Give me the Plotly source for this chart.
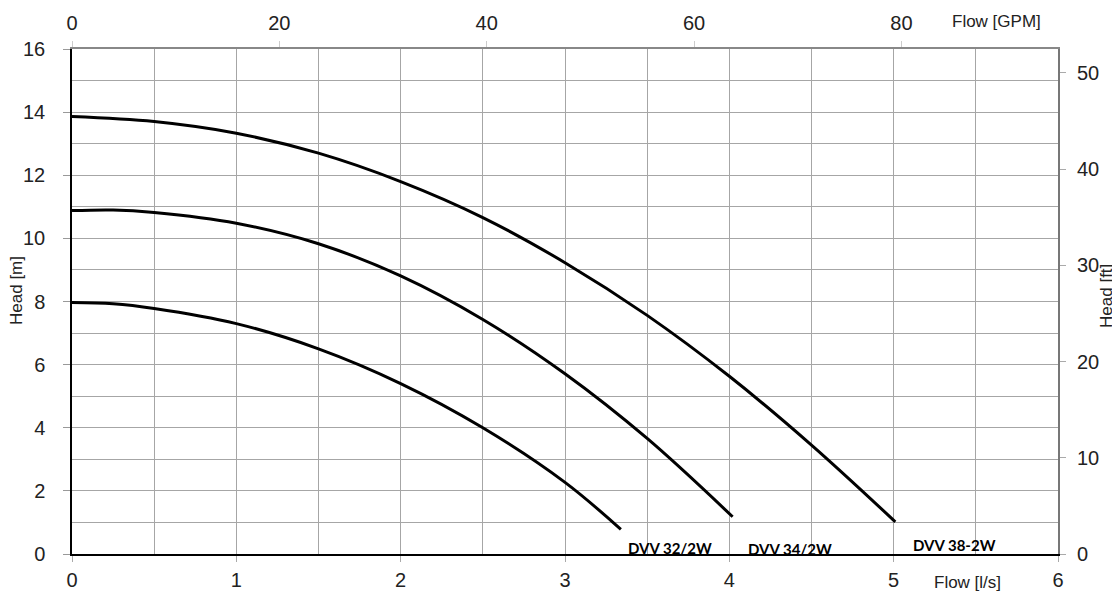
import plotly.graph_objects as go

# Data (Flow l/s, Head m)
flow_32 = [0, 0.25, 0.5, 1.0, 1.5, 2.0, 2.5, 3.0, 3.34]
head_32 = [7.97, 7.93, 7.78, 7.3, 6.5, 5.4, 4.0, 2.27, 0.78]

flow_34 = [0, 0.25, 0.5, 1.0, 1.5, 2.0, 2.5, 3.0, 3.5, 4.02]
head_34 = [10.88, 10.9, 10.82, 10.48, 9.83, 8.81, 7.43, 5.71, 3.66, 1.18]

flow_38 = [0, 0.5, 1.0, 1.5, 2.0, 2.5, 3.0, 3.5, 4.0, 4.5, 5.01]
head_38 = [13.86, 13.7, 13.33, 12.7, 11.8, 10.66, 9.23, 7.56, 5.63, 3.45, 1.02]

labels = ["DVV 32/2W", "DVV 34/2W", "DVV 38-2W"]
label_x = [3.64, 4.37, 5.37]
label_y = [0.2, 0.16, 0.3]

x_ticks_ls = [0, 1, 2, 3, 4, 5, 6]
y_ticks_m = [0, 2, 4, 6, 8, 10, 12, 14, 16]
x_ticks_gpm = [0, 20, 40, 60, 80]
y_ticks_ft = [0, 10, 20, 30, 40, 50]

LS_TO_GPM = 15.850
M_TO_FT = 3.28084
X_MAX = 6
Y_MAX = 16

fig = go.Figure()
for fx, hy in [(flow_32, head_32), (flow_34, head_34), (flow_38, head_38)]:
    fig.add_trace(go.Scatter(x=fx, y=hy, mode="lines",
                             line=dict(color="black", width=3, shape="spline", smoothing=1.0),
                             showlegend=False, hoverinfo="skip"))

# invisible traces to activate secondary axes
fig.add_trace(go.Scatter(x=[0], y=[0], xaxis="x2", yaxis="y", mode="markers",
                         marker=dict(opacity=0), showlegend=False, hoverinfo="skip"))
fig.add_trace(go.Scatter(x=[0], y=[0], xaxis="x", yaxis="y2", mode="markers",
                         marker=dict(opacity=0), showlegend=False, hoverinfo="skip"))

for t, lx, ly in zip(labels, label_x, label_y):
    fig.add_annotation(x=lx, y=ly, text="<b>" + t + "</b>", showarrow=False,
                       font=dict(family="Lato", size=15, color="black"), yanchor="middle")

tickfont = dict(family="Liberation Sans, Arial", size=20, color="#222")
GRID = "#a6a6a6"

# page body has an 8px margin, so the figure is sized to fill the window from (8, 8)
fig.update_layout(
    width=1112, height=583,
    margin=dict(l=64, r=62, t=41, b=37),
    paper_bgcolor="white", plot_bgcolor="white",
    xaxis=dict(range=[0, X_MAX], tickvals=x_ticks_ls, showgrid=True, gridcolor=GRID, gridwidth=1,
               minor=dict(dtick=0.5, showgrid=True, gridcolor=GRID, gridwidth=1),
               showline=True, linecolor="black", linewidth=1.5, ticks="outside", ticklen=6,
               tickcolor="#aaa", tickfont=tickfont, ticklabelstandoff=1, zeroline=False,
               fixedrange=True, automargin=False),
    yaxis=dict(range=[0, Y_MAX], tickvals=y_ticks_m, showgrid=True, gridcolor=GRID, gridwidth=1,
               minor=dict(dtick=1, showgrid=True, gridcolor=GRID, gridwidth=1),
               showline=True, linecolor="black", linewidth=1.5, ticks="outside", ticklen=7,
               tickcolor="#999", tickfont=tickfont, ticklabelstandoff=14, zeroline=False,
               fixedrange=True, automargin=False),
    xaxis2=dict(range=[0, X_MAX * LS_TO_GPM], tickvals=x_ticks_gpm, overlaying="x", side="top",
                showgrid=False, showline=True, linecolor="#888", linewidth=1.5, ticks="outside",
                ticklen=6, tickcolor="#ccc", tickfont=tickfont, ticklabelstandoff=3, zeroline=False,
                fixedrange=True, automargin=False),
    yaxis2=dict(range=[0, Y_MAX * M_TO_FT], tickvals=y_ticks_ft, overlaying="y", side="right",
                showgrid=False, showline=True, linecolor="#777", linewidth=2, ticks="outside",
                ticklen=6, tickcolor="#aaa", tickfont=tickfont, ticklabelstandoff=7, zeroline=False,
                fixedrange=True, automargin=False),
)

titlefont = dict(family="Liberation Sans, Arial", size=17, color="#222")
fig.add_annotation(xref="paper", yref="paper", x=0.9087, y=-0.0574, text="Flow [l/s]", showarrow=False,
                   font=titlefont, xanchor="center", yanchor="middle")
fig.add_annotation(xref="paper", yref="paper", x=0.9376, y=1.0535, text="Flow [GPM]", showarrow=False,
                   font=titlefont, xanchor="center", yanchor="middle")
fig.add_annotation(xref="paper", yref="paper", x=-0.0558, y=0.5228, text="Head [m]", showarrow=False,
                   textangle=-90, font=titlefont, xanchor="center", yanchor="middle")
fig.add_annotation(xref="paper", yref="paper", x=1.0497, y=0.511, text="Head [ft]", showarrow=False,
                   textangle=-90, font=titlefont, xanchor="center", yanchor="middle")

fig.write_html("out.html")
